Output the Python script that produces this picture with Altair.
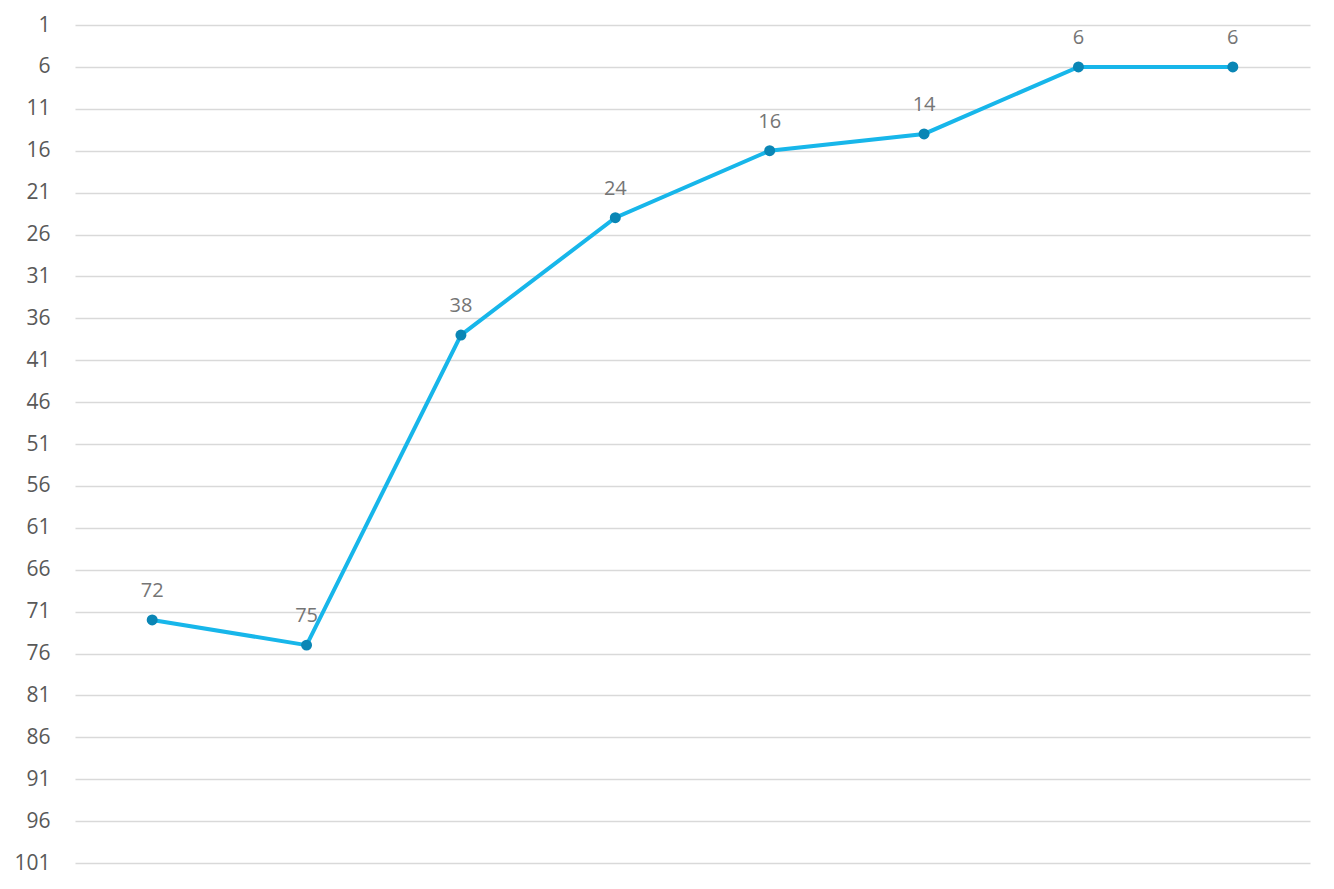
import altair as alt
import pandas as pd

categories = ["1", "2", "3", "4", "5", "6", "7", "8"]
ranks = [72, 75, 38, 24, 16, 14, 6, 6]
y_ticks = list(range(1, 102, 5))

df = pd.DataFrame({"cat": categories, "rank": ranks})

x = alt.X("cat:O", sort=categories, axis=None,
          scale=alt.Scale(type="point", padding=0.5))
y = alt.Y("rank:Q",
          scale=alt.Scale(domain=[1, 101], reverse=True, nice=False, zero=False),
          axis=alt.Axis(values=y_ticks, title=None, domain=False, ticks=False,
                        labelPadding=25, labelFontSize=21, labelColor="#595959",
                        labelFont="Open Sans", gridColor="#d9d9d9", gridWidth=1.5))

base = alt.Chart(df)
line = base.mark_line(color="#17b6ea", strokeWidth=4).encode(x=x, y=y)
pts = base.mark_circle(color="#0a86b5", size=120, opacity=1).encode(x=x, y=y)
labels = base.mark_text(dy=-29, baseline="middle", fontSize=20, color="#757575",
                        font="Open Sans").encode(x=x, y=y, text="rank:Q")

chart = (line + pts + labels).properties(
    width=1235, height=838,
    autosize=alt.AutoSizeParams(type="none"),
    padding={"left": 67, "top": 17, "right": 10, "bottom": 16},
).configure_view(stroke=None)

chart.save("out.html", embed_options={"renderer": "svg", "actions": False})
